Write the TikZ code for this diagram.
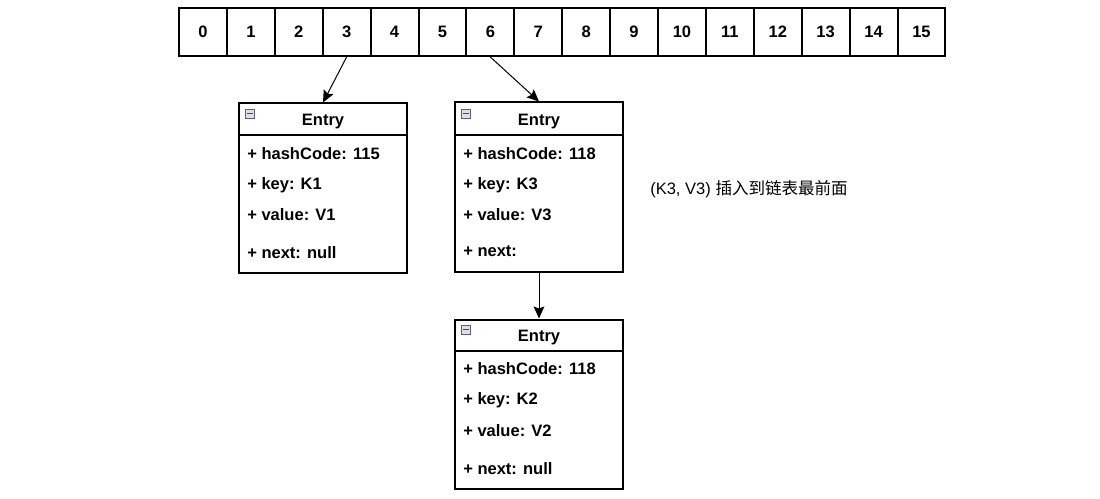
\documentclass[tikz,border=0pt]{standalone}
\usepackage{fontspec}
\setmainfont{Liberation Sans}
\newfontfamily\cjk{Noto Sans CJK SC}
\usetikzlibrary{arrows.meta, positioning}

\newcommand{\boxfont}{\fontsize{12.4}{15}\selectfont}
\tikzset{
    cell/.style={draw, line width=1.5pt, minimum width=47.9*0.75pt, minimum height=48*0.75pt, inner sep=0pt, font=\boxfont\bfseries},
    entrybox/.style={draw, line width=1.5pt, minimum width=168*0.75pt, minimum height=169*0.75pt, inner sep=0pt},
    field/.style={anchor=west, inner sep=0pt, font=\boxfont\bfseries},
    link/.style={line width=0.75pt, -{Stealth[length=9pt, width=8pt, inset=1.5pt]}}
}

\begin{document}
\begin{tikzpicture}[x=0.75pt, y=-0.75pt, font=\boxfont]
                \useasboundingbox (0,0) rectangle (1100,499);
                % array of buckets
                \foreach \i in {0,...,15}
                    \node[cell] (c\i) at ({179+47.9*(\i+0.5)}, 32) {\i};
                % entries
                \node[entrybox] (e1) at (323, 188) {};
                \node[entrybox] (e2) at (539, 187) {};
                \node[entrybox] (e3) at (539, 404) {};
                \foreach \e/\x/\y in {e1/239/103, e2/455/103, e3/455/319} {
                    \draw[line width=1.5pt] (\x, \y+32) -- (\x+168, \y+32);
                    \node[font=\boxfont\bfseries] at (\x+84, \y+19) {Entry};
                    \draw[gray!70!blue, fill=gray!25, line width=0.5pt] (\x+6, \y+6) rectangle (\x+15, \y+15);
                    \draw[black!70, line width=0.9pt] (\x+7.5, \y+10.5) -- (\x+13.5, \y+10.5);
                }
                \node[field] at (247, 154) {+ hashCode: 115};
                \node[field] at (247, 185) {+ key: K1};
                \node[field] at (247, 215) {+ value: V1};
                \node[field] at (247, 253) {+ next: null};
                \node[field] at (463, 154) {+ hashCode: 118};
                \node[field] at (463, 185) {+ key: K3};
                \node[field] at (463, 215) {+ value: V3};
                \node[field] at (463, 251) {+ next:};
                \node[field] at (463, 369) {+ hashCode: 118};
                \node[field] at (463, 400) {+ key: K2};
                \node[field] at (463, 431) {+ value: V2};
                \node[field] at (463, 469) {+ next: null};
                % links
                \draw[link] (c3.south) -- (e1.north);
                \draw[link] (c6.south) -- (e2.north);
                \draw[link] (e2.south) -- (e3.north);
                \node[anchor=west, inner sep=0pt] (note) at (650, 189) {(K3, V3) {\cjk 插入到链表最前面}};
            \end{tikzpicture}
\end{document}
